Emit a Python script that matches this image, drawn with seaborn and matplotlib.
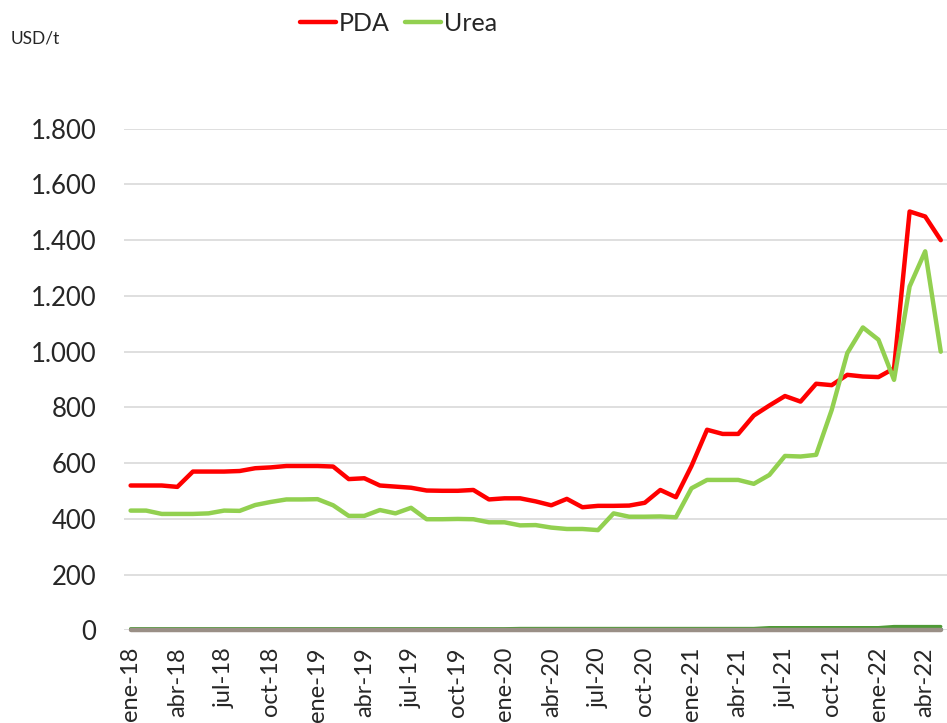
import pandas as pd
import seaborn as sns
import matplotlib.pyplot as plt

sns.set_style("white")
plt.rcParams['font.family'] = ['Lato', 'DejaVu Sans']

# monthly series, ene-18 .. may-22
meses = ['ene', 'feb', 'mar', 'abr', 'may', 'jun', 'jul', 'ago', 'sep', 'oct', 'nov', 'dic']
anios = ['18', '19', '20', '21', '22']

pda = [520, 520, 520, 515, 570, 570, 570, 572, 582, 585, 590, 590, 590, 588, 543, 546,
       520, 516, 512, 502, 501, 501, 504, 470, 474, 474, 463, 449, 472, 442, 447, 447,
       448, 458, 504, 478, 590, 720, 705, 705, 771, 807, 841, 821, 885, 880, 917, 911,
       909, 940, 1503, 1485, 1400]
urea = [430, 430, 418, 418, 418, 420, 430, 429, 450, 461, 470, 470, 471, 449, 411, 411,
        432, 420, 440, 399, 399, 400, 399, 388, 388, 377, 378, 369, 364, 364, 360, 420,
        408, 408, 409, 406, 510, 540, 540, 540, 526, 558, 626, 624, 630, 791, 995, 1087,
        1043, 899, 1234, 1360, 1000]
# small series hugging the zero line (not in legend)
otro1 = [7] * 53
otro2 = [6] * 25 + [7] * 16 + [10] * 8 + [14] * 4
otro3 = [0] * 53

tick_labels = ['ene-18', 'abr-18', 'jul-18', 'oct-18', 'ene-19', 'abr-19', 'jul-19', 'oct-19',
               'ene-20', 'abr-20', 'jul-20', 'oct-20', 'ene-21', 'abr-21', 'jul-21', 'oct-21',
               'ene-22', 'abr-22']

fechas = [m + '-' + a for a in anios for m in meses][:len(pda)]
df = pd.DataFrame({'fecha': fechas, 'PDA': pda, 'Urea': urea,
                   'o1': otro1, 'o2': otro2, 'o3': otro3})
df['i'] = range(len(df))

fig = plt.figure(figsize=(9.47, 7.23), dpi=100)
ax = fig.add_axes([0.131, 0.128, 0.869, 0.694])

sns.lineplot(data=df, x='i', y='o1', color='#2F7A6E', lw=2.4, ax=ax)
sns.lineplot(data=df, x='i', y='o2', color='#4E9A35', lw=2.4, ax=ax)
sns.lineplot(data=df, x='i', y='o3', color='#9A8F86', lw=3.2, ax=ax)
for ln in ax.lines:
    ln.set_clip_on(False)
sns.lineplot(data=df, x='i', y='PDA', color='#FF0000', lw=3.2, ax=ax, label='PDA')
sns.lineplot(data=df, x='i', y='Urea', color='#92D050', lw=3.2, ax=ax, label='Urea')

ax.set_xlim(-0.42, 52.4)
ax.set_ylim(0, 1800)
ax.set_yticks(range(0, 1801, 200))
ax.set_yticklabels(['0', '200', '400', '600', '800', '1.000', '1.200', '1.400', '1.600', '1.800'])
ax.set_xticks(range(0, len(df), 3))
ax.set_xticklabels(tick_labels, rotation=90)
ax.tick_params(axis='y', length=0, pad=20, labelsize=18.5)
ax.tick_params(axis='x', length=0, pad=12, labelsize=17)
ax.set_xlabel('')
ax.set_ylabel('')
ax.grid(axis='y', color='#D9D9D9', lw=1.2)
ax.set_axisbelow(True)
for s in ax.spines.values():
    s.set_visible(False)

ax.legend(loc='center', bbox_to_anchor=(0.421, 0.968), bbox_transform=fig.transFigure,
          ncol=2, frameon=False, fontsize=18, handlelength=1.45, handletextpad=0.12,
          columnspacing=0.6)

fig.text(0.011, 0.947, 'USD/t', fontsize=12.5, va='center', ha='left')

fig.savefig('out.png', dpi=100)
